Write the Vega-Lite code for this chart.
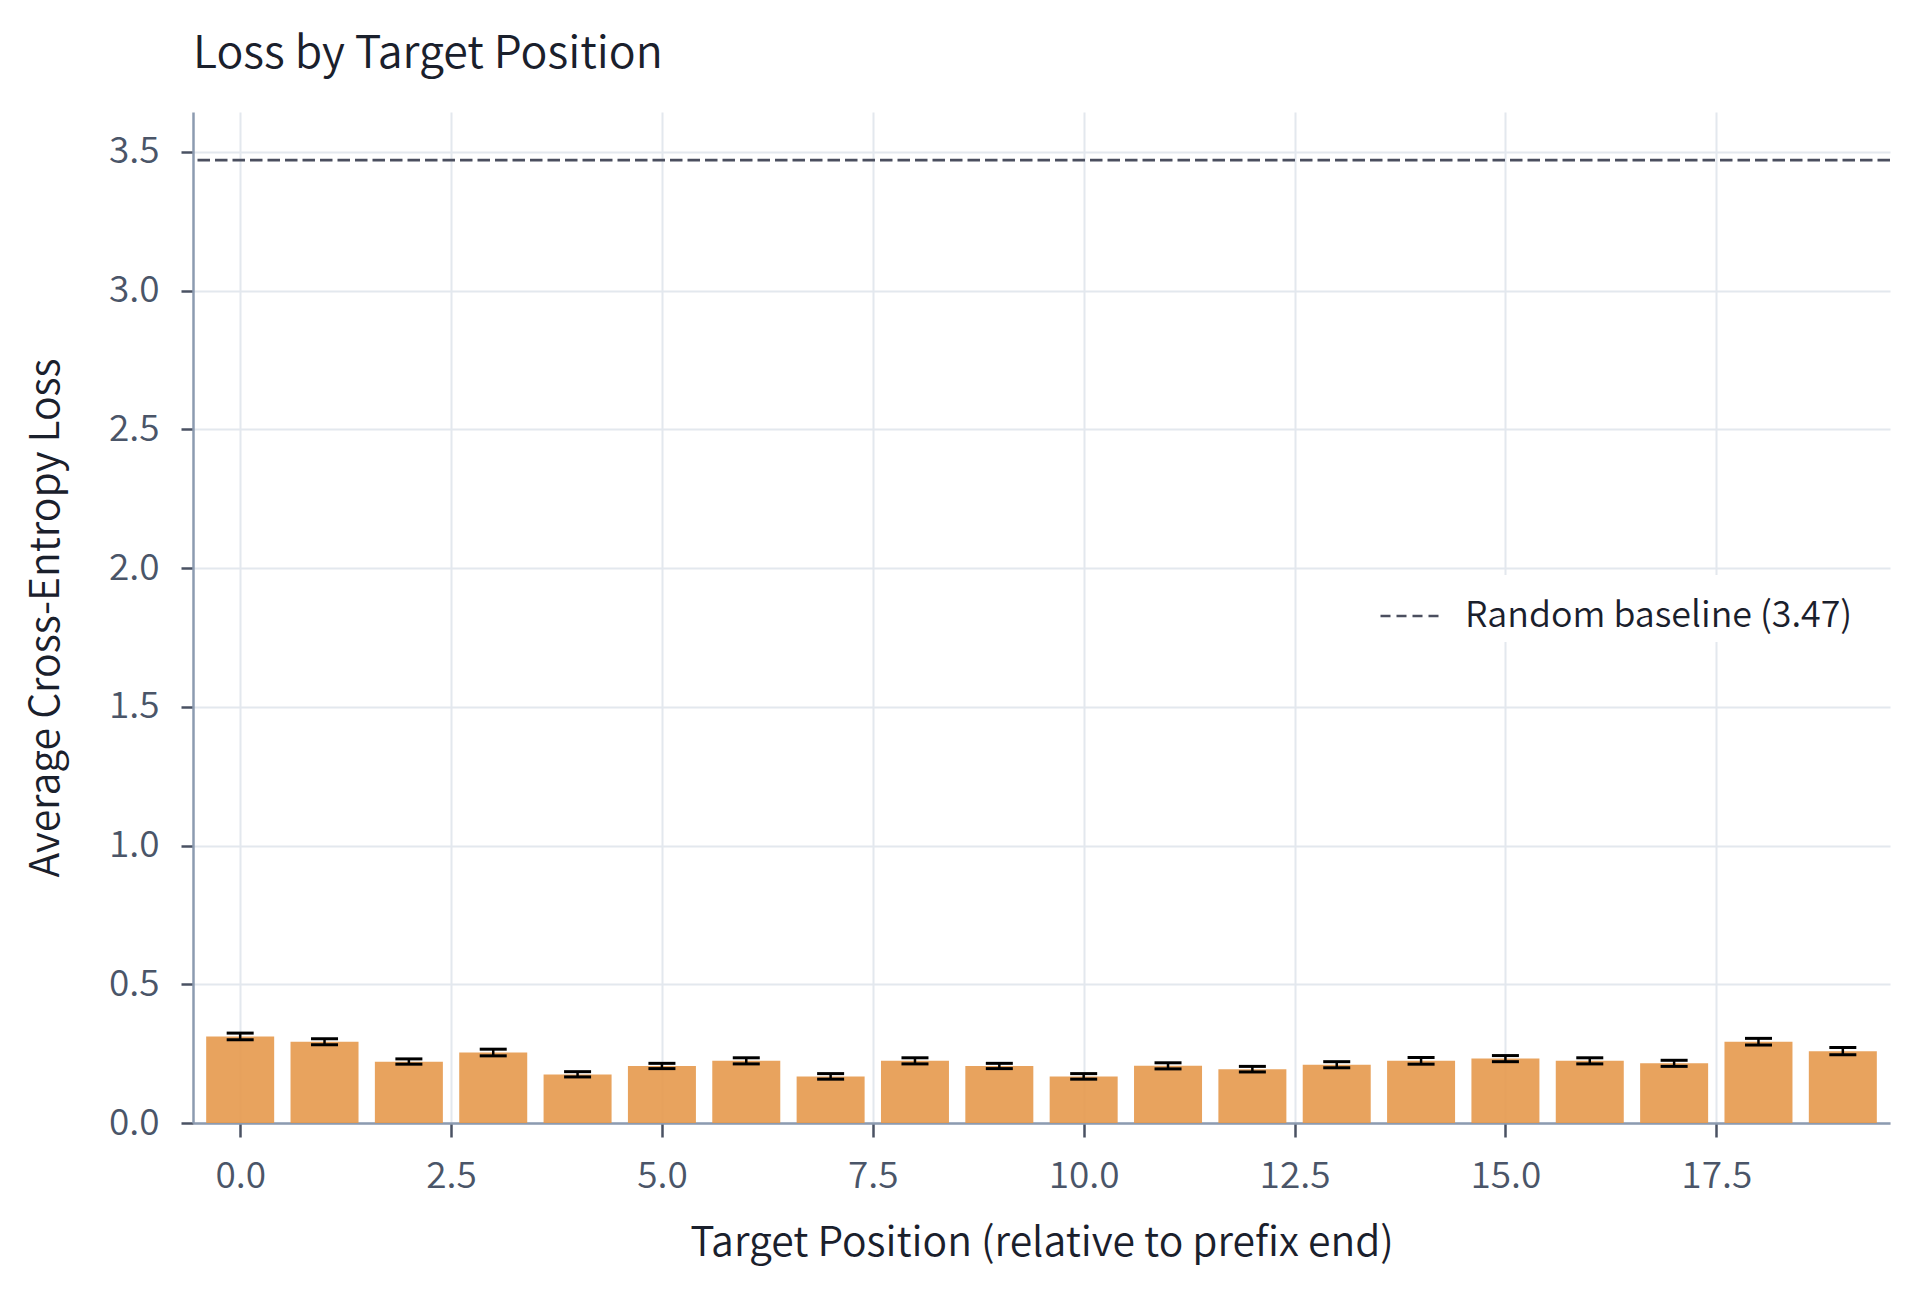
{
  "$schema": "https://vega.github.io/schema/vega-lite/v6.json",
  "width": 1697,
  "height": 1011,
  "autosize": "none",
  "padding": {"left": 193, "top": 112, "right": 30, "bottom": 169},
  "background": "white",
  "title": {
    "text": "Loss by Target Position",
    "anchor": "start",
    "frame": "group",
    "font": "Noto Sans CJK KR",
    "fontSize": 44.7,
    "fontWeight": 350,
    "color": "#1a202c",
    "baseline": "alphabetic",
    "offset": -1
  },
  "datasets": {
    "bars": [
      {"position": 0, "loss": 0.312, "lo": 0.300, "hi": 0.324},
      {"position": 1, "loss": 0.293, "lo": 0.282, "hi": 0.304},
      {"position": 2, "loss": 0.221, "lo": 0.212, "hi": 0.231},
      {"position": 3, "loss": 0.254, "lo": 0.242, "hi": 0.266},
      {"position": 4, "loss": 0.175, "lo": 0.166, "hi": 0.185},
      {"position": 5, "loss": 0.205, "lo": 0.196, "hi": 0.215},
      {"position": 6, "loss": 0.224, "lo": 0.213, "hi": 0.235},
      {"position": 7, "loss": 0.168, "lo": 0.158, "hi": 0.178},
      {"position": 8, "loss": 0.224, "lo": 0.213, "hi": 0.235},
      {"position": 9, "loss": 0.205, "lo": 0.196, "hi": 0.215},
      {"position": 10, "loss": 0.168, "lo": 0.158, "hi": 0.178},
      {"position": 11, "loss": 0.206, "lo": 0.195, "hi": 0.217},
      {"position": 12, "loss": 0.194, "lo": 0.184, "hi": 0.204},
      {"position": 13, "loss": 0.210, "lo": 0.199, "hi": 0.221},
      {"position": 14, "loss": 0.224, "lo": 0.212, "hi": 0.236},
      {"position": 15, "loss": 0.232, "lo": 0.221, "hi": 0.243},
      {"position": 16, "loss": 0.224, "lo": 0.213, "hi": 0.235},
      {"position": 17, "loss": 0.215, "lo": 0.204, "hi": 0.226},
      {"position": 18, "loss": 0.293, "lo": 0.281, "hi": 0.305},
      {"position": 19, "loss": 0.259, "lo": 0.246, "hi": 0.272}
    ],
    "baseline": [
      {"label": "Random baseline (3.47)", "loss": 3.47}
    ]
  },
  "layer": [
    {
      "data": {"name": "bars"},
      "mark": {"type": "bar", "size": 68, "color": "#E6994D", "opacity": 0.9},
      "encoding": {
        "x": {
          "field": "position",
          "type": "quantitative",
          "scale": {"domain": [-0.5, 19.5], "nice": false, "zero": false},
          "title": "Target Position (relative to prefix end)",
          "axis": {
            "values": [0, 2.5, 5, 7.5, 10, 12.5, 15, 17.5],
            "format": ".1f",
            "tickSize": 14,
            "labelPadding": 21,
            "titlePadding": 29
          }
        },
        "y": {
          "field": "loss",
          "type": "quantitative",
          "scale": {"domain": [0, 3.6435], "nice": false},
          "title": "Average Cross-Entropy Loss",
          "axis": {
            "values": [0, 0.5, 1, 1.5, 2, 2.5, 3, 3.5],
            "format": ".1f",
            "tickSize": 12,
            "labelPadding": 22,
            "titlePadding": 41
          }
        }
      }
    },
    {
      "data": {"name": "bars"},
      "mark": {"type": "rule", "color": "#000000", "strokeWidth": 2.5},
      "encoding": {
        "x": {"field": "position", "type": "quantitative"},
        "y": {"field": "lo", "type": "quantitative"},
        "y2": {"field": "hi"}
      }
    },
    {
      "data": {"name": "bars"},
      "mark": {"type": "tick", "orient": "horizontal", "size": 27, "thickness": 3, "color": "#000000", "opacity": 1},
      "encoding": {
        "x": {"field": "position", "type": "quantitative"},
        "y": {"field": "lo", "type": "quantitative"}
      }
    },
    {
      "data": {"name": "bars"},
      "mark": {"type": "tick", "orient": "horizontal", "size": 27, "thickness": 3, "color": "#000000", "opacity": 1},
      "encoding": {
        "x": {"field": "position", "type": "quantitative"},
        "y": {"field": "hi", "type": "quantitative"}
      }
    },
    {
      "data": {"name": "baseline"},
      "mark": {"type": "rule", "strokeDash": [12.5, 5], "strokeWidth": 2.8},
      "encoding": {
        "y": {"field": "loss", "type": "quantitative"},
        "stroke": {
          "field": "label",
          "type": "nominal",
          "scale": {"range": ["#4b4f5f"]},
          "legend": {
            "title": null,
            "orient": "none",
            "legendX": 1178,
            "legendY": 463,
            "fillColor": "#ffffff",
            "padding": 8,
            "symbolType": "stroke",
            "symbolSize": 3969,
            "symbolStrokeWidth": 2.5,
            "symbolDash": [10, 6],
            "symbolStrokeColor": "#4b4f5f",
            "labelFont": "Noto Sans CJK KR",
            "labelFontSize": 35.8,
            "labelFontWeight": 350,
            "labelColor": "#1a202c",
            "labelOffset": 20,
            "labelLimit": 0
          }
        }
      }
    }
  ],
  "config": {
    "view": {"stroke": null},
    "axis": {
      "grid": true,
      "gridColor": "#e3e8ee",
      "gridWidth": 2,
      "domainColor": "#8c9bb0",
      "domainWidth": 2.5,
      "tickColor": "#4a5263",
      "tickWidth": 2.5,
      "labelFont": "Noto Sans CJK KR",
      "labelFontSize": 37,
      "labelFontWeight": 350,
      "labelColor": "#4a5568",
      "titleFont": "Noto Sans CJK KR",
      "titleFontSize": 40.9,
      "titleFontWeight": 350,
      "titleColor": "#1a202c"
    }
  }
}
